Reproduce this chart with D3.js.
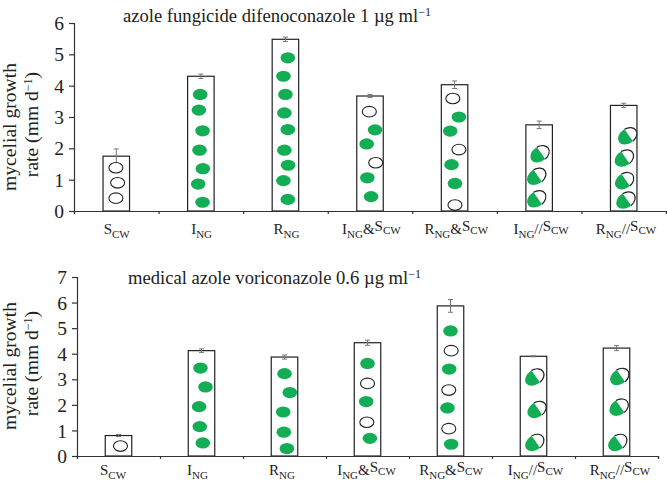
<!DOCTYPE html>
<html><head><meta charset="utf-8">
<script src="https://cdn.jsdelivr.net/npm/d3@7"></script>
<style>html,body{margin:0;background:#fff}svg{display:block}text{font-family:"Liberation Serif",serif;fill:#222}</style>
</head><body><svg id="c" width="667" height="483"></svg>
<script>
// categories: [base, base subscript, joiner, second base, second subscript]
const categories=[["S","CW"],["I","NG"],["R","NG"],["I","NG","&","S","CW"],["R","NG","&","S","CW"],["I","NG","//","S","CW"],["R","NG","//","S","CW"]];
const yTicksTop=[0,1,2,3,4,5,6];
const yTicksBottom=[0,1,2,3,4,5,6,7];
const titleTop="azole fungicide difenoconazole 1 µg ml";
const titleBottom="medical azole voriconazole 0.6 µg ml";
const ratesTop=[1.75,4.3,5.48,3.67,4.03,2.75,3.37];
const errorsTop=[0.23,0.07,0.07,0.05,0.12,0.12,0.07];
const ratesBottom=[0.8,4.12,3.87,4.43,5.87,3.9,4.22];
const errorsBottom=[0.04,0.07,0.08,0.1,0.25,0.02,0.1];
// nuclei per bar: height on the value axis, sideways share of bar half-width, kind (o=S, g=R/I, h=heterokaryon)
const nucleiTop=[
 [[1.38,-.03,"o"],[.9,.1,"o"],[.41,-.03,"o"]],
 [[3.72,-.05,"g"],[3.22,-.15,"g"],[2.56,.13,"g"],[1.94,-.1,"g"],[1.35,.15,"g"],[.86,-.2,"g"],[.28,.13,"g"]],
 [[4.89,.18,"g"],[4.3,-.15,"g"],[3.72,0,"g"],[3.13,-.08,"g"],[2.6,.18,"g"],[1.94,-.08,"g"],[1.46,.2,"g"],[.97,-.15,"g"],[.37,.18,"g"]],
 [[3.17,-.05,"o"],[2.59,.38,"g"],[2.14,-.25,"g"],[1.54,.43,"o"],[1.06,-.2,"g"],[.46,.08,"g"]],
 [[3.59,-.13,"o"],[3,.33,"g"],[2.55,-.33,"g"],[1.96,.33,"o"],[1.48,-.23,"g"],[.88,.03,"g"],[.19,.03,"o"]],
 [[1.82,.05,"h"],[1.1,-.2,"h"],[.38,-.2,"h"]],
 [[2.39,.28,"h"],[1.68,.03,"h"],[.96,.05,"h"],[.34,.15,"h"]]
];
const nucleiBottom=[
 [[.39,.15,"o"]],
 [[3.44,-.08,"g"],[2.7,.3,"g"],[1.93,-.18,"g"],[1.15,-.13,"g"],[.51,.1,"g"]],
 [[3.22,0,"g"],[2.48,.4,"g"],[1.72,-.1,"g"],[.93,-.05,"g"],[.29,.18,"g"]],
 [[3.62,0,"g"],[2.84,0,"o"],[2.13,-.1,"g"],[1.32,-.05,"o"],[.69,.18,"g"]],
 [[4.89,0,"g"],[4.12,.05,"o"],[3.4,-.1,"g"],[2.58,-.13,"o"],[1.88,-.23,"g"],[1.07,-.13,"o"],[.46,.05,"g"]],
 [[3.08,.08,"h"],[1.81,.25,"h"],[.52,.08,"h"]],
 [[3.1,.23,"h"],[1.9,.18,"h"],[.52,.08,"h"]]
];
const GREEN="#12ad55",INK="#222";
const svg=d3.select("#c");
function panel(o){
  const g=svg.append("g");
  const x=d3.scaleBand().domain(d3.range(categories.length)).range([o.x0,o.x1]).paddingInner(0).paddingOuter(0);
  const y=d3.scaleLinear().domain([0,o.max]).range([o.y0,o.y1]);
  const labelX=d3.scalePoint().domain(d3.range(categories.length)).range(o.labelRange);
  const bw=26.5, hw=bw/2;
  const cx=i=>x(i)+x.bandwidth()/2;
  g.selectAll("rect.bar").data(o.rates).join("rect").attr("class","bar")
   .attr("x",(d,i)=>cx(i)-hw).attr("width",bw).attr("y",d=>y(d)).attr("height",d=>o.y0-y(d))
   .attr("fill","#fff").attr("stroke",INK).attr("stroke-width",1.2);
  // error bars
  const eb=g.selectAll("g.err").data(o.rates).join("g").attr("class","err").attr("stroke","#777").attr("stroke-width",1);
  eb.append("line").attr("x1",(d,i)=>cx(i)).attr("x2",(d,i)=>cx(i)).attr("y1",(d,i)=>y(d+o.errors[i])).attr("y2",(d,i)=>y(d-o.errors[i]));
  [1,-1].forEach(s=>eb.append("line").attr("x1",(d,i)=>cx(i)-2.5).attr("x2",(d,i)=>cx(i)+2.5).attr("y1",(d,i)=>y(d+s*o.errors[i])).attr("y2",(d,i)=>y(d+s*o.errors[i])));
  // nuclei
  o.nuclei.forEach((list,i)=>{
    list.forEach(([v,dx,k])=>{
      const px=cx(i)+dx*hw, py=y(v);
      if(k==="g") g.append("ellipse").attr("cx",px).attr("cy",py).attr("rx",7.3).attr("ry",5.6).attr("fill",GREEN);
      else if(k==="o") g.append("ellipse").attr("cx",px).attr("cy",py).attr("rx",7).attr("ry",5.3).attr("fill","#fff").attr("stroke",INK).attr("stroke-width",1.1);
      else{
        const n=g.append("g").attr("transform",`translate(${px},${py}) rotate(-35)`);
        const rx=10.3,ry=7.4,s=1.5;
        const h=ry*Math.sqrt(1-s*s/(rx*rx));
        n.append("ellipse").attr("rx",rx).attr("ry",ry).attr("fill",GREEN);
        n.append("path").attr("d",`M${s},${-h}A${rx},${ry} 0 0 1 ${s},${h}Z`).attr("fill","#fff").attr("stroke","none");
        n.append("path").attr("d",`M${s},${-h}A${rx},${ry} 0 0 1 ${s},${h}`).attr("fill","none").attr("stroke",INK).attr("stroke-width",1.2);
      }
    });
  });
  // axes
  const ya=d3.axisLeft(y).tickValues(o.yTicks).tickSize(5).tickFormat(d3.format("d"));
  const yg=g.append("g").attr("transform",`translate(${o.x0},0)`).call(ya);
  yg.selectAll("path,line").attr("stroke","#333").attr("stroke-width",1.2);
  yg.selectAll("text").attr("font-size",19.5).attr("x",-10).attr("dy","0.34em");
  const xa=d3.axisBottom(d3.scalePoint().domain(d3.range(categories.length+1)).range([o.x0,o.x1])).tickSize(3).tickFormat("");
  const xg=g.append("g").attr("transform",`translate(0,${o.y0})`).call(xa);
  xg.selectAll("path,line").attr("stroke","#333").attr("stroke-width",1.2);
  // category labels
  categories.forEach((c,i)=>{
    const t=g.append("text").attr("x",labelX(i)).attr("y",o.labelY).attr("text-anchor","middle").attr("font-size",15);
    c.forEach((s,j)=>{
      const sub=j===1||j===4;
      const ts=t.append("tspan").text(s);
      if(sub) ts.attr("font-size",11).attr("dy",3.5);
      else if(j>0) ts.attr("dy",-3.5);
    });
  });
  // y title
  const yt=g.append("text").attr("transform",`translate(30,${o.yMid}) rotate(-90)`).attr("text-anchor","middle").attr("font-size",19.6).attr("y",-14);
  yt.text("mycelial growth");
  const yt2=g.append("text").attr("transform",`translate(30,${o.yMid}) rotate(-90)`).attr("text-anchor","middle").attr("font-size",19.6).attr("x",2.5).attr("y",8);
  yt2.append("tspan").text("rate (mm d");
  yt2.append("tspan").text("−1").attr("font-size",12).attr("dy",-6);
  yt2.append("tspan").text(")").attr("dy",6);
  // panel title
  const tt=g.append("text").attr("x",o.titleX).attr("y",o.titleY).attr("font-size",18.6);
  tt.append("tspan").text(o.title);
  tt.append("tspan").text("−1").attr("font-size",12).attr("dy",-6);
}
panel({x0:74,x1:666,y0:211,y1:23,max:6,yTicks:yTicksTop,rates:ratesTop,errors:errorsTop,nuclei:nucleiTop,title:titleTop,titleX:123,titleY:22,labelY:234,labelRange:[116.7,626],yMid:127});
panel({x0:77,x1:658,y0:456,y1:277,max:7,yTicks:yTicksBottom,rates:ratesBottom,errors:errorsBottom,nuclei:nucleiBottom,title:titleBottom,titleX:128,titleY:283.5,labelY:475,labelRange:[113,620],yMid:366});
</script></body></html>
